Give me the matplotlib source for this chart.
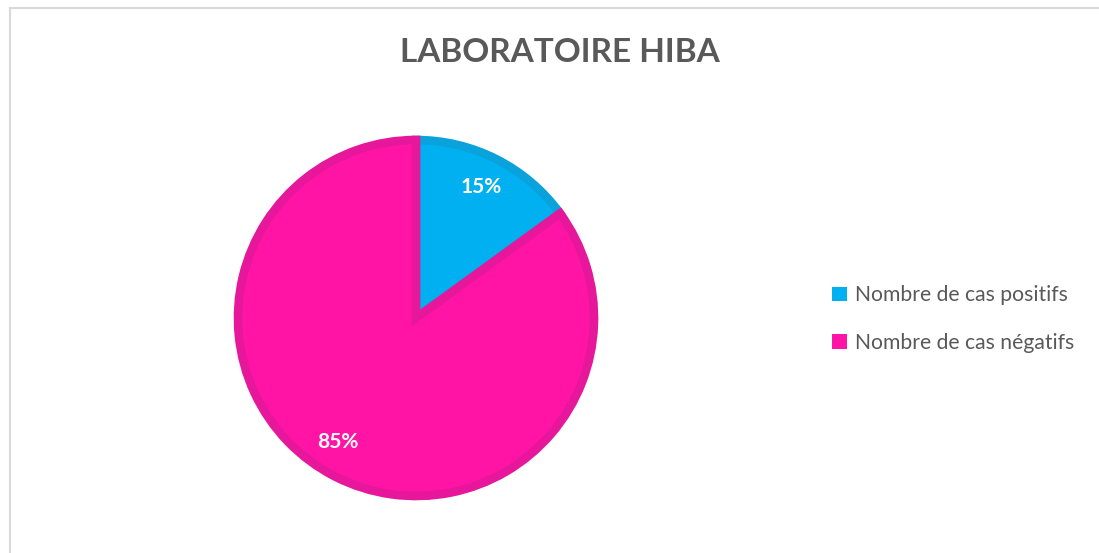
import matplotlib.pyplot as plt
from matplotlib.patches import Patch
from matplotlib.lines import Line2D

labels = ['Nombre de cas positifs', 'Nombre de cas négatifs']
values = [15, 85]
fill_colors = ['#00B0F0', '#FF14A6']
edge_colors = ['#0AA2DA', '#E6179B']

plt.rcParams['font.family'] = ['Lato', 'DejaVu Sans']

W, H = 1099, 553
fig = plt.figure(figsize=(W / 100, H / 100), dpi=100)

# light frame (left and top only, as in the reference)
fig.add_artist(Line2D([9.5 / W, 9.5 / W], [0, 1 - 7.5 / H], color='#D9D9D9', lw=1.5))
fig.add_artist(Line2D([9.5 / W, 1], [1 - 7.5 / H, 1 - 7.5 / H], color='#D9D9D9', lw=1.5))

# pie axes in pixel units, centre at (416, 318)
cx, cy, half = 416, 318, 200
ax = fig.add_axes([(cx - half) / W, (H - cy - half) / H, 2 * half / W, 2 * half / H])

wedges, _ = ax.pie(values, colors=fill_colors, startangle=90, counterclock=False,
                   radius=178, wedgeprops=dict(linewidth=6.2, joinstyle='miter'))
for w, ec in zip(wedges, edge_colors):
    w.set_edgecolor(ec)
ax.set_xlim(-half, half)
ax.set_ylim(-half, half)
ax.set_aspect('equal')
ax.axis('off')

ax.text(65, 131, '15%', color='white', fontsize=15, fontweight='bold', ha='center', va='center')
ax.text(-78, -124, '85%', color='white', fontsize=15, fontweight='bold', ha='center', va='center')

fig.text(560 / W, 1 - 52 / H, 'LABORATOIRE HIBA', color='#595959', fontsize=24,
         fontweight='bold', ha='center', va='center')

handles = [Patch(facecolor=c, edgecolor='none') for c in fill_colors]
fig.legend(handles, labels, loc='center left', bbox_to_anchor=(813 / W, 1 - 319 / H),
           frameon=False, fontsize=15.2, labelcolor='#595959', handlelength=0.7,
           handleheight=0.7, handletextpad=0.4, labelspacing=1.3)

fig.savefig('out.png', dpi=100)
